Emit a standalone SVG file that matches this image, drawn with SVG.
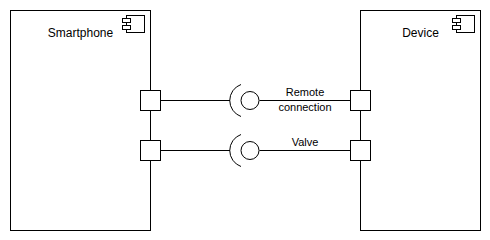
<svg xmlns="http://www.w3.org/2000/svg" width="490" height="240" viewBox="0 0 490 240">
  <defs>
    <style>
      .shape { fill: #ffffff; stroke: #000000; stroke-width: 1; }
      .wire { fill: none; stroke: #000000; stroke-width: 1; }
      .lbl { font-family: "Liberation Sans", Arial, sans-serif; fill: #000000; }
      .title { font-size: 12px; text-anchor: middle; }
      .edge-lbl { font-size: 11px; text-anchor: middle; }
    </style>
    <!-- UML component glyph, placed at the top-right corner of each component -->
    <g id="component-icon">
      <rect class="shape" x="4" y="0" width="18" height="17"/>
      <rect class="shape" x="0" y="3" width="8" height="4"/>
      <rect class="shape" x="0" y="10" width="8" height="4"/>
    </g>
    <!-- ball-and-socket interface glyph, centred on its own origin -->
    <g id="lollipop">
      <path class="wire" d="M -9 -16 A 17 17 0 0 0 -9 16"/>
      <circle class="wire" cx="0" cy="0" r="9"/>
    </g>
  </defs>

  <rect width="490" height="240" fill="#ffffff"/>

  <!-- connectors -->
  <g id="connectors">
    <g id="remote-connection">
      <line class="wire" x1="160.5" y1="100.5" x2="230" y2="100.5"/>
      <line class="wire" x1="259.5" y1="100.5" x2="350.5" y2="100.5"/>
      <use href="#lollipop" x="250" y="100.5"/>
      <text class="lbl edge-lbl" x="305" y="96">Remote</text>
      <text class="lbl edge-lbl" x="305" y="111">connection</text>
    </g>
    <g id="valve">
      <line class="wire" x1="160.5" y1="150.5" x2="230" y2="150.5"/>
      <line class="wire" x1="259.5" y1="150.5" x2="350.5" y2="150.5"/>
      <use href="#lollipop" x="250" y="150.5"/>
      <text class="lbl edge-lbl" x="305" y="146">Valve</text>
    </g>
  </g>

  <!-- Smartphone component -->
  <g id="smartphone">
    <rect class="shape" x="10.5" y="10.5" width="140" height="220"/>
    <use href="#component-icon" x="122.5" y="15.5"/>
    <text class="lbl title" x="80.5" y="37">Smartphone</text>
    <rect id="smartphone-port-1" class="shape" x="140.5" y="90.5" width="20" height="20"/>
    <rect id="smartphone-port-2" class="shape" x="140.5" y="140.5" width="20" height="20"/>
  </g>

  <!-- Device component -->
  <g id="device">
    <rect class="shape" x="360.5" y="10.5" width="120" height="220"/>
    <use href="#component-icon" x="452.5" y="15.5"/>
    <text class="lbl title" x="420.5" y="37">Device</text>
    <rect id="device-port-1" class="shape" x="350.5" y="90.5" width="20" height="20"/>
    <rect id="device-port-2" class="shape" x="350.5" y="140.5" width="20" height="20"/>
  </g>
</svg>
